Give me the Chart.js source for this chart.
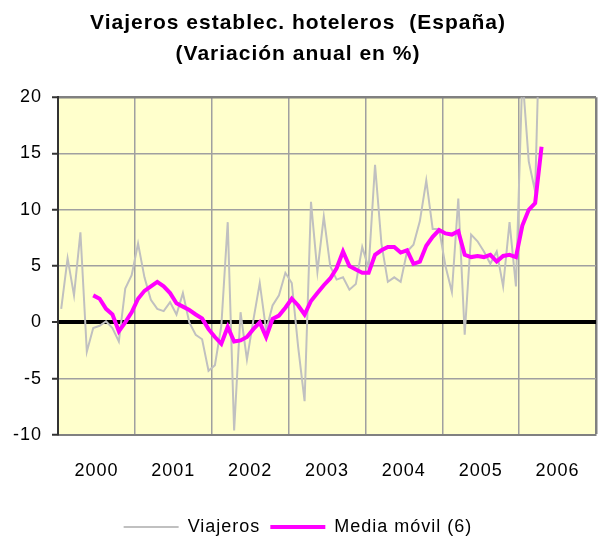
<!DOCTYPE html>
<html lang="es">
<head>
<meta charset="utf-8">
<title>Viajeros establec. hoteleros (España)</title>
<script src="https://cdn.jsdelivr.net/npm/chart.js@4/dist/chart.umd.min.js"></script>
<style>
  html, body { margin: 0; padding: 0; background: #ffffff; }
  #grafico { display: block; }
</style>
</head>
<body>
<canvas id="grafico" width="598" height="539"></canvas>
<script>
// Años del eje X (cada etiqueta va centrada en sus 12 meses)
const anios = ["2000", "2001", "2002", "2003", "2004", "2005", "2006"];

// Viajeros: variación anual (%) mensual, ene-2000 .. abr-2006
const viajeros = [
    1.2, 5.7, 2.4, 8.0, -2.6, -0.5, -0.3, 0.1, -0.5, -1.7, 3.0, 4.2,
    7.0, 4.0, 2.0, 1.2, 1.0, 1.8, 0.7, 2.6, 0.0, -1.1, -1.5, -4.3,
    -3.8, -0.3, 8.9, -9.6, 0.9, -3.3, 0.2, 3.5, -0.7, 1.5, 2.4, 4.4,
    3.5, -2.2, -7.0, 10.7, 4.5, 9.4, 5.0, 3.8, 4.0, 2.9, 3.4, 6.7,
    4.8, 14.0, 7.0, 3.6, 4.0, 3.6, 6.3, 6.9, 9.0, 12.6, 8.3, 8.3,
    5.0, 2.7, 11.0, -1.1, 7.8, 7.2, 6.3, 5.2, 6.3, 3.2, 8.9, 3.2,
    22.0, 14.3, 11.6, 33.0
];

// Media móvil (6): empieza en jun-2000 (sexto mes)
const inicioMedia = 5;
const mediaMovil = [
    2.4, 2.1, 1.2, 0.7, -0.8, 0.0, 0.9,
    2.1, 2.8, 3.2, 3.6, 3.2, 2.6, 1.7, 1.4, 1.1, 0.7, 0.35, -0.6,
    -1.3, -1.9, -0.4, -1.7, -1.6, -1.3, -0.6, 0.0, -1.3, 0.3, 0.6, 1.3,
    2.1, 1.5, 0.7, 1.9, 2.6, 3.3, 3.9, 4.8, 6.3, 5.0, 4.7, 4.4,
    4.4, 6.0, 6.4, 6.7, 6.7, 6.2, 6.4, 5.2, 5.4, 6.8, 7.6, 8.2,
    7.9, 7.8, 8.1, 6.0, 5.8, 5.9, 5.8, 6.0, 5.4, 5.9, 6.0, 5.8,
    8.6, 10.0, 10.6, 15.6
];

// Eje Y
const yMin = -10;
const yMax = 20;
const yPaso = 5;

const MESES = 12;
const totalMeses = anios.length * MESES;
const FUENTE = "'Liberation Sans', Arial, sans-serif";

// cada mes ocupa una banda; el punto va en el centro de la banda
function aPuntos(valores, desde) {
    return valores.map((v, i) => ({ x: desde + i + 0.5, y: v }));
}

// fondo amarillo del área de trazado + espaciado de letras
const fondoPlot = {
    id: "fondoPlot",
    beforeLayout(chart) {
        chart.ctx.letterSpacing = "1px";
    },
    beforeDraw(chart) {
        const { ctx, chartArea } = chart;
        ctx.letterSpacing = "1px";
        ctx.save();
        ctx.fillStyle = "#ffffcc";
        ctx.fillRect(chartArea.left, chartArea.top, chartArea.right - chartArea.left, chartArea.bottom - chartArea.top);
        ctx.restore();
    }
};

const ctx = document.getElementById("grafico").getContext("2d");

new Chart(ctx, {
    type: "line",
    data: {
        datasets: [
            {
                label: "Viajeros",
                data: aPuntos(viajeros, 0),
                borderColor: "#c0c0c0",
                backgroundColor: "#c0c0c0",
                borderWidth: 2,
                pointRadius: 0,
                tension: 0,
                clip: 0,
                order: 2
            },
            {
                label: "Media móvil (6)",
                data: aPuntos(mediaMovil, inicioMedia),
                borderColor: "#ff00ff",
                backgroundColor: "#ff00ff",
                borderWidth: 4,
                pointRadius: 0,
                tension: 0,
                clip: 0,
                order: 1
            }
        ]
    },
    options: {
        responsive: false,
        animation: false,
        layout: { padding: { top: 0, right: 2, bottom: -7, left: 0 } },
        plugins: {
            title: {
                display: true,
                text: ["Viajeros establec. hoteleros  (España)", "(Variación anual en %)"],
                color: "#000000",
                font: { family: FUENTE, size: 21, weight: "bold", lineHeight: 1.48 },
                padding: { top: 8, bottom: 27 }
            },
            legend: {
                position: "bottom",
                labels: {
                    color: "#000000",
                    font: { family: FUENTE, size: 18 },
                    usePointStyle: true,
                    pointStyle: "line",
                    pointStyleWidth: 55,
                    padding: 10,
                    sort: (a, b) => a.datasetIndex - b.datasetIndex
                }
            },
            tooltip: { enabled: false }
        },
        scales: {
            x: {
                type: "linear",
                min: 0,
                max: totalMeses,
                afterBuildTicks(scale) {
                    const ticks = [];
                    for (let v = 0; v <= totalMeses; v += MESES / 2) ticks.push({ value: v });
                    scale.ticks = ticks;
                },
                afterFit(scale) {
                    scale.height = 73;
                    scale.paddingLeft = 0;
                    scale.paddingRight = 0;
                },
                ticks: {
                    autoSkip: false,
                    maxRotation: 0,
                    padding: 25,
                    color: "#000000",
                    font: { family: FUENTE, size: 18 },
                    callback: (value) => value % MESES === MESES / 2 ? anios[(value - MESES / 2) / MESES] : ""
                },
                grid: {
                    drawTicks: false,
                    color: (c) => {
                        if (!c.tick || c.tick.value % MESES !== 0) return "rgba(0,0,0,0)";
                        return c.tick.value === totalMeses ? "#808080" : "#a0a0a0";
                    },
                    lineWidth: (c) => c.tick && c.tick.value === totalMeses ? 2.5 : 1.5
                },
                border: { color: "#808080", width: 2 }
            },
            y: {
                min: yMin,
                max: yMax,
                afterFit(scale) { scale.width = 58; },
                ticks: {
                    stepSize: yPaso,
                    padding: 10,
                    color: "#000000",
                    font: { family: FUENTE, size: 18 }
                },
                grid: {
                    color: (c) => {
                        if (!c.tick) return "#a0a0a0";
                        if (c.tick.value === 0) return "#000000";
                        if (c.tick.value === yMax) return "#808080";
                        return "#a0a0a0";
                    },
                    lineWidth: (c) => {
                        if (!c.tick) return 1.5;
                        if (c.tick.value === 0) return 4;
                        if (c.tick.value === yMax) return 2.5;
                        return 1.5;
                    },
                    tickLength: 6,
                    tickColor: "#333333",
                    tickWidth: 2
                },
                border: { color: "#333333", width: 2 }
            }
        }
    },
    plugins: [fondoPlot]
});
</script>
</body>
</html>
